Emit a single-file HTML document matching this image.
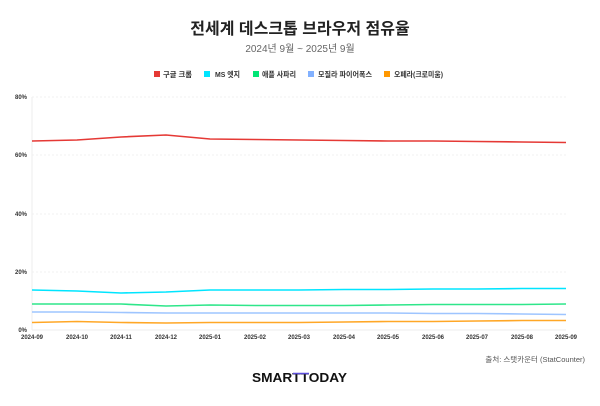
<!DOCTYPE html>
<html><head><meta charset="utf-8"><style>
body{margin:0;background:#fff;width:600px;height:401px;overflow:hidden;font-family:"Liberation Sans","Noto Sans CJK KR",sans-serif;}
</style></head><body>
<svg width="600" height="401" xmlns="http://www.w3.org/2000/svg" style="font-family:'Liberation Sans','Noto Sans CJK KR',sans-serif">
<text x="300" y="34" text-anchor="middle" font-size="16" font-weight="bold" fill="#222">전세계 데스크톱 브라우저 점유율</text>
<text x="300" y="52" text-anchor="middle" font-size="10" fill="#666">2024년 9월 ~ 2025년 9월</text>
<g font-size="7.5" font-weight="bold" fill="#333">
<rect x="154" y="71" width="6" height="6" fill="#e53935"/><text x="163" y="77" textLength="29" lengthAdjust="spacingAndGlyphs">구글 크롬</text>
<rect x="204" y="71" width="6" height="6" fill="#00e5ff"/><text x="215" y="77" textLength="25" lengthAdjust="spacingAndGlyphs">MS 엣지</text>
<rect x="253" y="71" width="6" height="6" fill="#00e676"/><text x="262" y="77" textLength="34" lengthAdjust="spacingAndGlyphs">애플 사파리</text>
<rect x="308" y="71" width="6" height="6" fill="#82b1ff"/><text x="318" y="77" textLength="54" lengthAdjust="spacingAndGlyphs">모질라 파이어폭스</text>
<rect x="384" y="71" width="6" height="6" fill="#ff9800"/><text x="394" y="77" textLength="49" lengthAdjust="spacingAndGlyphs">오페라(크로미움)</text>
</g>
<g stroke="#eee" stroke-width="0.8" stroke-dasharray="2,2">
<line x1="32" x2="566" y1="97" y2="97"/><line x1="32" x2="566" y1="155" y2="155"/><line x1="32" x2="566" y1="214" y2="214"/><line x1="32" x2="566" y1="272" y2="272"/>
</g>
<line x1="32" x2="566" y1="330" y2="330" stroke="#eee"/>
<line x1="32" x2="32" y1="97" y2="330" stroke="#eee"/>
<g font-size="6" fill="#333" text-anchor="end" font-weight="bold">
<text x="27" y="99">80%</text><text x="27" y="157">60%</text><text x="27" y="216">40%</text><text x="27" y="274">20%</text><text x="27" y="332">0%</text>
</g>
<g font-size="6" fill="#333" text-anchor="middle" font-weight="bold">
<text x="32" y="339">2024-09</text><text x="77" y="339">2024-10</text><text x="121" y="339">2024-11</text><text x="166" y="339">2024-12</text><text x="210" y="339">2025-01</text><text x="255" y="339">2025-02</text><text x="299" y="339">2025-03</text><text x="344" y="339">2025-04</text><text x="388" y="339">2025-05</text><text x="433" y="339">2025-06</text><text x="477" y="339">2025-07</text><text x="522" y="339">2025-08</text><text x="566" y="339">2025-09</text>
</g>
<g fill="none" stroke-width="1.6" stroke-linejoin="round">
<polyline stroke="#e53935" points="32,141 77,140 121,137 166,135 210,139 255,139.5 299,140 344,140.5 388,141 433,141 477,141.5 522,142 566,142.5"/>
<polyline stroke="#00e5ff" points="32,290 77,291 121,293 166,292 210,290 255,290 299,290 344,289.5 388,289.5 433,289 477,289 522,288.5 566,288.5"/>
<polyline stroke="#2ee68a" points="32,304 77,304 121,304 166,306 210,305 255,305.5 299,305.5 344,305.5 388,305 433,304.5 477,304.5 522,304.5 566,304"/>
<polyline stroke="#9ec5ff" points="32,312 77,312 121,312.5 166,313 210,313 255,313 299,313 344,313 388,313 433,313.5 477,313.5 522,314 566,314.5"/>
<polyline stroke="#ffa726" points="32,322.5 77,321.5 121,322.5 166,323 210,322.5 255,322.5 299,322.5 344,322 388,321.5 433,321.5 477,321 522,320.5 566,320.5"/>
</g>
<text x="585" y="362" text-anchor="end" font-size="7.5" fill="#555">출처: 스탯카운터 (StatCounter)</text>
<text x="252" y="382" font-size="12.5" font-weight="bold" fill="#111" textLength="95" lengthAdjust="spacingAndGlyphs">SMARTTODAY</text>
<line x1="293" x2="309" y1="373.5" y2="373.5" stroke="#5b4ddb" stroke-width="1.5"/>
</svg>
</body></html>
